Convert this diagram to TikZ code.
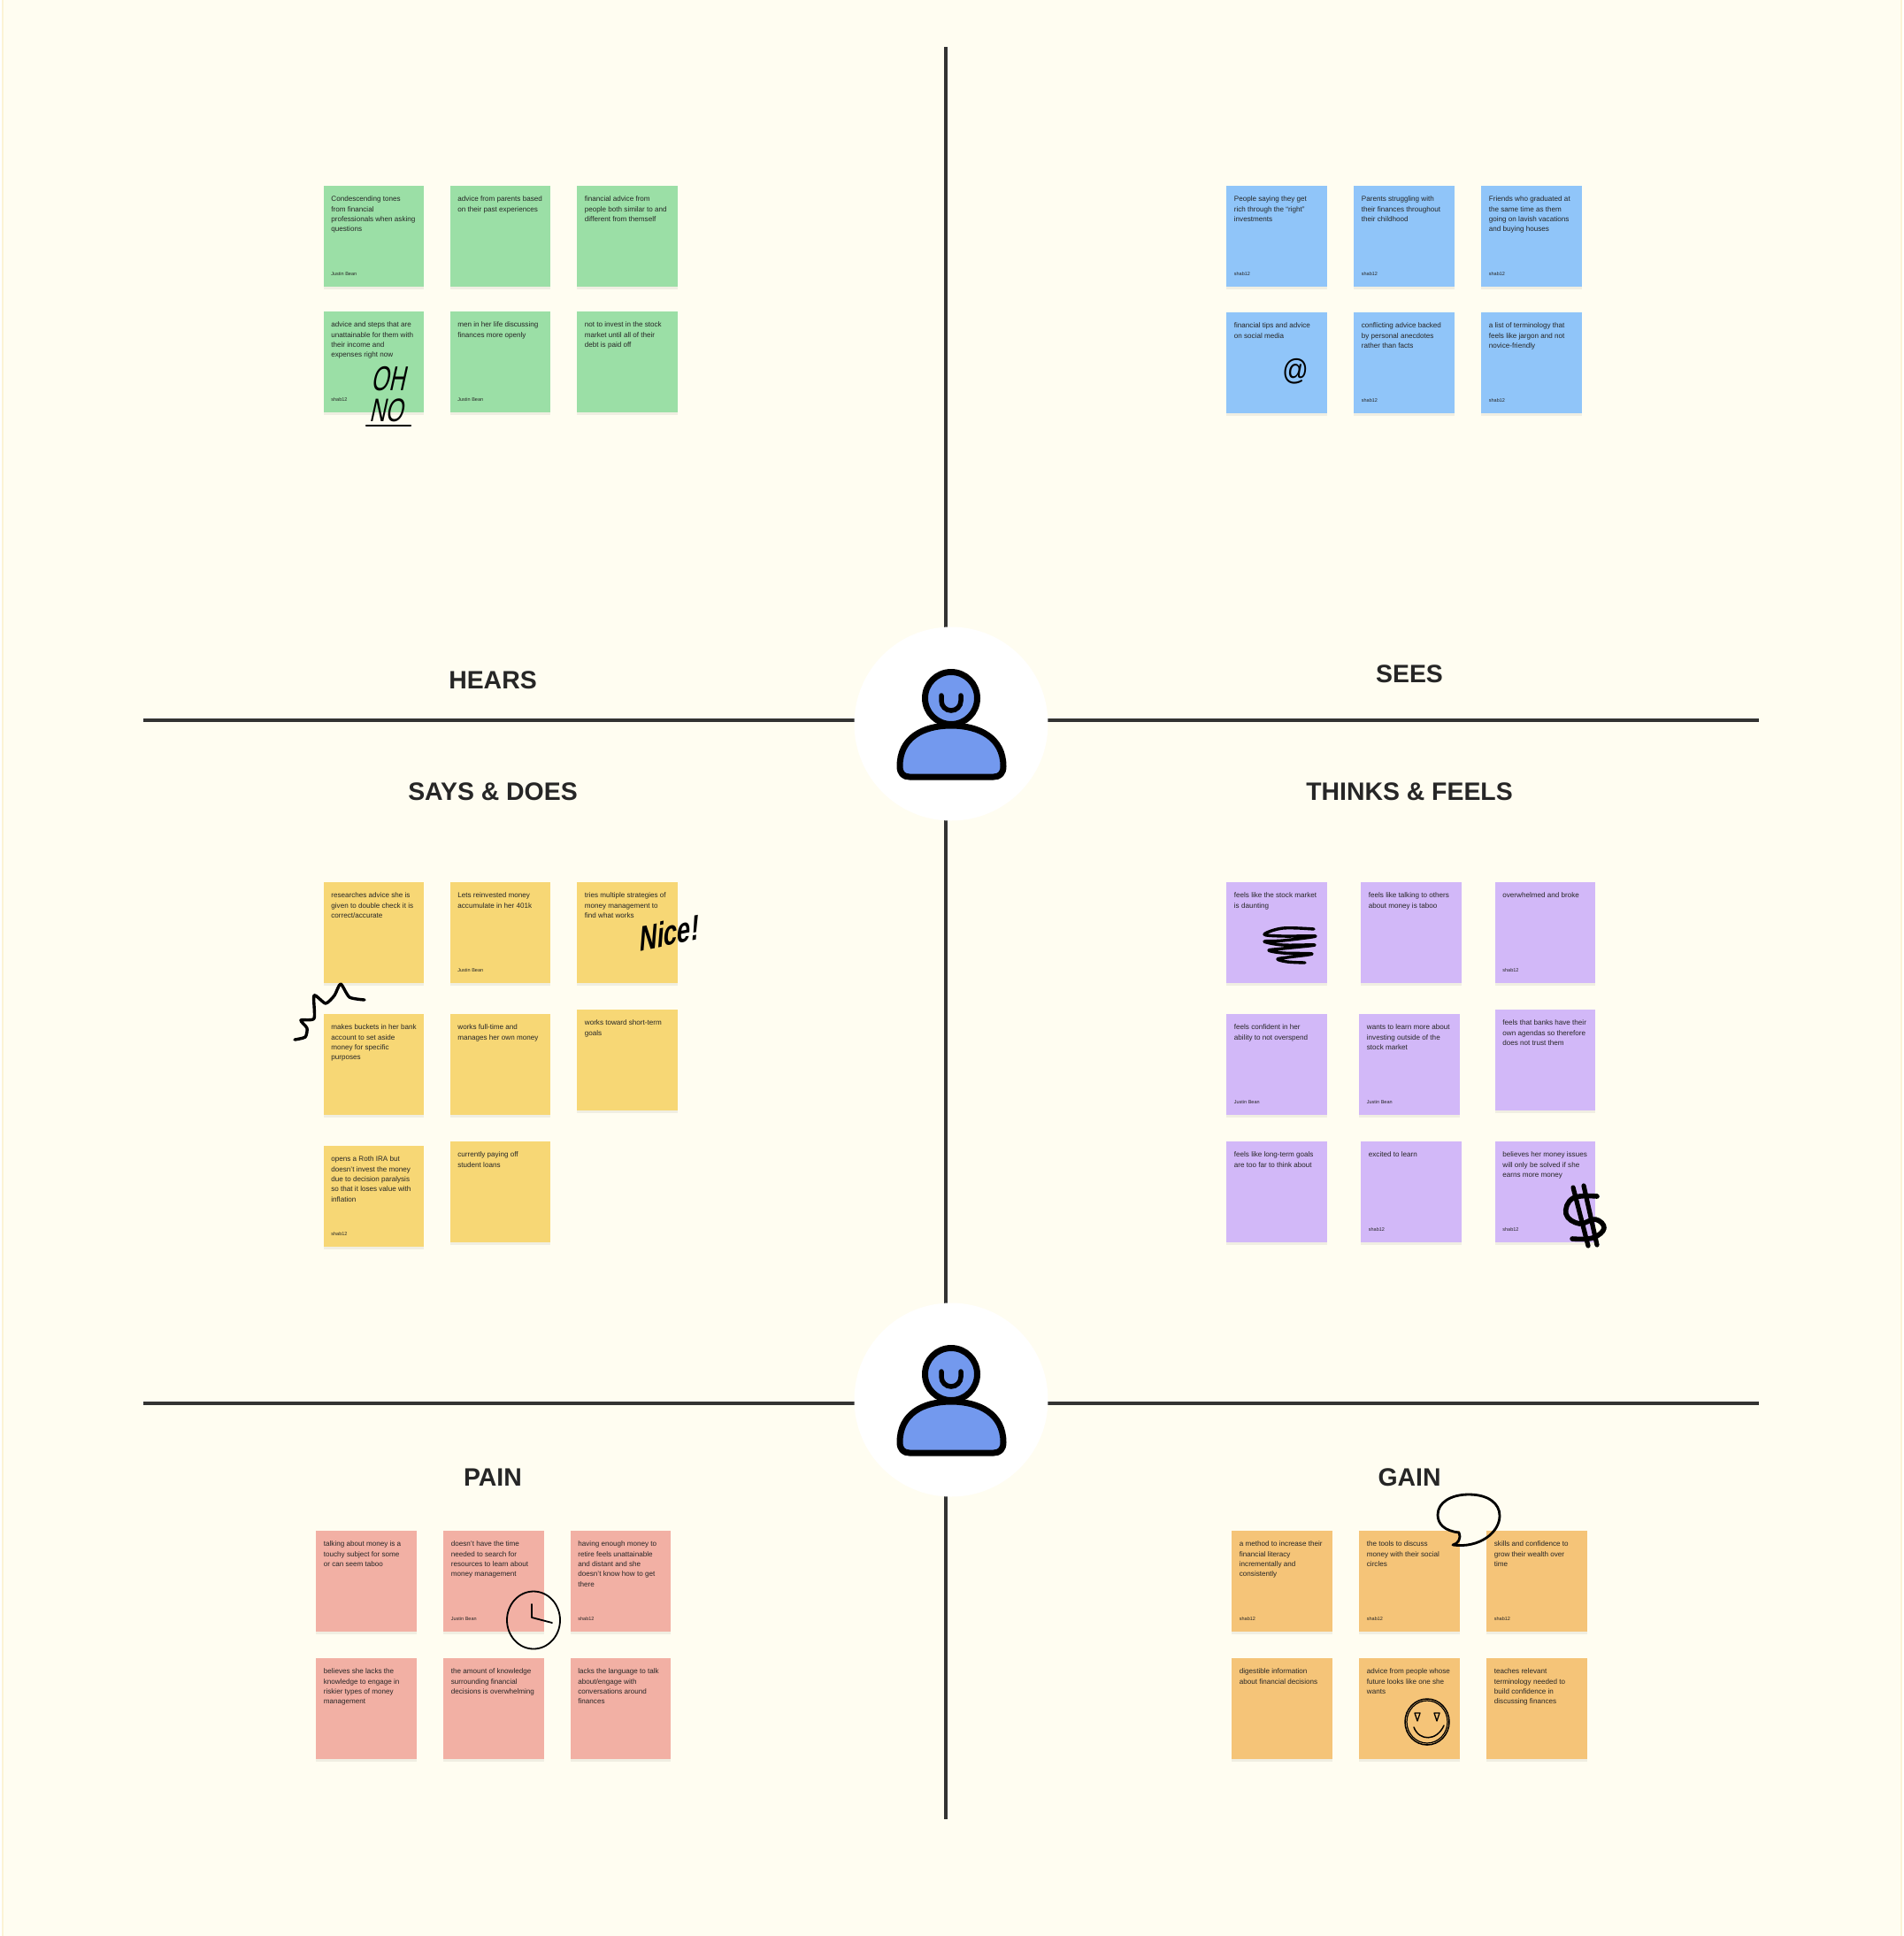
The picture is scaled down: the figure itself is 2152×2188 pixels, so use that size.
\documentclass[tikz,border=0pt]{standalone}
\usepackage{fontspec}
\setmainfont{Liberation Sans}
\definecolor{paper}{HTML}{FFFDF1}
\definecolor{paperedge}{HTML}{FCF3D5}
\definecolor{ink}{HTML}{333333}
\definecolor{notegreen}{HTML}{9BDFA6}
\definecolor{noteblue}{HTML}{90C5F9}
\definecolor{noteyellow}{HTML}{F7D775}
\definecolor{notepurple}{HTML}{D2B8F8}
\definecolor{notepink}{HTML}{F2B0A4}
\definecolor{noteorange}{HTML}{F5C478}
\definecolor{iconblue}{HTML}{7399EE}
\newcommand{\stickytext}[2]{\parbox[c][90pt][t]{113.5pt}{\leftskip=8.7pt \rightskip=0pt plus 1fil \parindent=0pt \fontsize{8.1}{11.3}\selectfont #1\par\vfill\fontsize{5.5}{6}\selectfont #2\par}}
\tikzset{
	note/.style={anchor=north west, minimum width=113.5pt, minimum height=113.5pt, inner xsep=0pt, inner ysep=11.7pt, text=black!85,
		preaction={fill=black, fill opacity=0.06, transform canvas={yshift=-3pt}}},
	greennote/.style={note, fill=notegreen},
	bluenote/.style={note, fill=noteblue},
	yellownote/.style={note, fill=noteyellow},
	purplenote/.style={note, fill=notepurple},
	pinknote/.style={note, fill=notepink},
	orangenote/.style={note, fill=noteorange},
	axis/.style={line width=3.6pt, color=ink},
	hub/.style={circle, fill=white, minimum size=219pt, inner sep=0pt},
	heading/.style={font=\fontsize{28.4}{29}\selectfont\bfseries, text=black!85},
	scrawl/.style={black, line cap=round, line join=round},
	person/.pic={
		\draw[line width=7pt, fill=iconblue] (0,-29) circle (29.5pt);
		\draw[line width=5.5pt, line cap=round] (-11,-32) -- (-11,-26) arc[start angle=180, end angle=360, radius=11pt] -- (11,-32);
		\draw[line width=7pt, fill=iconblue, line join=round] (-47,60) -- (48,60) .. controls (55,60) and (59,56) .. (59,48)
			.. controls (59,16) and (32,2) .. (0,2) .. controls (-32,2) and (-58,16) .. (-58,48) .. controls (-58,56) and (-54,60) .. (-47,60) -- cycle;
	}
}
\begin{document}
\begin{tikzpicture}[x=1pt, y=-1pt]
	\useasboundingbox (0,0) rectangle (2152,2188);
	% Background
	\fill[white] (0,0) rectangle (2152,2188);
	\fill[paperedge] (2,0) rectangle (2150,2188);
	\fill[paper] (4,0) rectangle (2148,2188);
	% Axes
	\coordinate (axistop) at (1069,53);
	\coordinate (axisbottom) at (1069,2056);
	\coordinate (upperleft) at (162,814);
	\coordinate (upperright) at (1988,814);
	\coordinate (lowerleft) at (162,1586);
	\coordinate (lowerright) at (1988,1586);
	\draw[axis] (axistop) -- (axisbottom);
	\draw[axis] (upperleft) -- (upperright);
	\draw[axis] (lowerleft) -- (lowerright);
	% Persons in the centre
	\node[hub] (hubupper) at (1075,818) {};
	\node[hub] (hublower) at (1075,1582) {};
	\pic at (1075,818) {person};
	\pic at (1075,1582) {person};
	% Headings
	\node[heading] (hears) at (557,768.5) {HEARS};
	\node[heading] (sees) at (1593,761.5) {SEES};
	\node[heading] (says) at (557,894.5) {SAYS \& DOES};
	\node[heading] (thinks) at (1593,894.5) {THINKS \& FEELS};
	\node[heading] (pain) at (557,1670) {PAIN};
	\node[heading] (gain) at (1593,1670) {GAIN};
	% Hears
	\node[greennote] (hears1) at (365.5,210) {\stickytext{Condescending tones\\from financial\\professionals when asking\\questions}{Justin Bean}};
	\node[greennote] (hears2) at (508.5,210) {\stickytext{advice from parents based\\on their past experiences}{}};
	\node[greennote] (hears3) at (652,210) {\stickytext{financial advice from\\people both similar to and\\different from themself}{}};
	\node[greennote] (hears4) at (365.5,352) {\stickytext{advice and steps that are\\unattainable for them with\\their income and\\expenses right now}{shab12}};
	\node[greennote] (hears5) at (508.5,352) {\stickytext{men in her life discussing\\finances more openly}{Justin Bean}};
	\node[greennote] (hears6) at (652,352) {\stickytext{not to invest in the stock\\market until all of their\\debt is paid off}{}};
	% Sees
	\node[bluenote] (sees1) at (1386,210) {\stickytext{People saying they get\\rich through the ``right''\\investments}{shab12}};
	\node[bluenote] (sees2) at (1530,210) {\stickytext{Parents struggling with\\their finances throughout\\their childhood}{shab12}};
	\node[bluenote] (sees3) at (1674,210) {\stickytext{Friends who graduated at\\the same time as them\\going on lavish vacations\\and buying houses}{shab12}};
	\node[bluenote] (sees4) at (1386,353) {\stickytext{financial tips and advice\\on social media}{}};
	\node[bluenote] (sees5) at (1530,353) {\stickytext{conflicting advice backed\\by personal anecdotes\\rather than facts}{shab12}};
	\node[bluenote] (sees6) at (1674,353) {\stickytext{a list of terminology that\\feels like jargon and not\\novice-friendly}{shab12}};
	% Says and does
	\node[yellownote] (says1) at (365.5,997) {\stickytext{researches advice she is\\given to double check it is\\correct/accurate}{}};
	\node[yellownote] (says2) at (508.5,997) {\stickytext{Lets reinvested money\\accumulate in her 401k}{Justin Bean}};
	\node[yellownote] (says3) at (652,997) {\stickytext{tries multiple strategies of\\money management to\\find what works}{}};
	\node[yellownote] (says4) at (365.5,1146) {\stickytext{makes buckets in her bank\\account to set aside\\money for specific\\purposes}{}};
	\node[yellownote] (says5) at (508.5,1146) {\stickytext{works full-time and\\manages her own money}{}};
	\node[yellownote] (says6) at (652,1141) {\stickytext{works toward short-term\\goals}{}};
	\node[yellownote] (says7) at (365.5,1295) {\stickytext{opens a Roth IRA but\\doesn't invest the money\\due to decision paralysis\\so that it loses value with\\inflation}{shab12}};
	\node[yellownote] (says8) at (508.5,1290) {\stickytext{currently paying off\\student loans}{}};
	% Thinks and feels
	\node[purplenote] (thinks1) at (1386,997) {\stickytext{feels like the stock market\\is daunting}{}};
	\node[purplenote] (thinks2) at (1538,997) {\stickytext{feels like talking to others\\about money is taboo}{}};
	\node[purplenote] (thinks3) at (1689.5,997) {\stickytext{overwhelmed and broke}{shab12}};
	\node[purplenote] (thinks4) at (1386,1146) {\stickytext{feels confident in her\\ability to not overspend}{Justin Bean}};
	\node[purplenote] (thinks5) at (1536,1146) {\stickytext{wants to learn more about\\investing outside of the\\stock market}{Justin Bean}};
	\node[purplenote] (thinks6) at (1689.5,1141) {\stickytext{feels that banks have their\\own agendas so therefore\\does not trust them}{}};
	\node[purplenote] (thinks7) at (1386,1290) {\stickytext{feels like long-term goals\\are too far to think about}{}};
	\node[purplenote] (thinks8) at (1538,1290) {\stickytext{excited to learn}{shab12}};
	\node[purplenote] (thinks9) at (1689.5,1290) {\stickytext{believes her money issues\\will only be solved if she\\earns more money}{shab12}};
	% Pain
	\node[pinknote] (pain1) at (357,1730) {\stickytext{talking about money is a\\touchy subject for some\\or can seem taboo}{}};
	\node[pinknote] (pain2) at (501,1730) {\stickytext{doesn't have the time\\needed to search for\\resources to learn about\\money management}{Justin Bean}};
	\node[pinknote] (pain3) at (644.5,1730) {\stickytext{having enough money to\\retire feels unattainable\\and distant and she\\doesn't know how to get\\there}{shab12}};
	\node[pinknote] (pain4) at (357,1874) {\stickytext{believes she lacks the\\knowledge to engage in\\riskier types of money\\management}{}};
	\node[pinknote] (pain5) at (501,1874) {\stickytext{the amount of knowledge\\surrounding financial\\decisions is overwhelming}{}};
	\node[pinknote] (pain6) at (644.5,1874) {\stickytext{lacks the language to talk\\about/engage with\\conversations around\\finances}{}};
	% Gain
	\node[orangenote] (gain1) at (1392,1730) {\stickytext{a method to increase their\\financial literacy\\incrementally and\\consistently}{shab12}};
	\node[orangenote] (gain2) at (1536,1730) {\stickytext{the tools to discuss\\money with their social\\circles}{shab12}};
	\node[orangenote] (gain3) at (1680,1730) {\stickytext{skills and confidence to\\grow their wealth over\\time}{shab12}};
	\node[orangenote] (gain4) at (1392,1874) {\stickytext{digestible information\\about financial decisions}{}};
	\node[orangenote] (gain5) at (1536,1874) {\stickytext{advice from people whose\\future looks like one she\\wants}{}};
	\node[orangenote] (gain6) at (1680,1874) {\stickytext{teaches relevant\\terminology needed to\\build confidence in\\discussing finances}{}};
	% Oh no
	\node[xslant=0.22, xscale=0.62, yscale=0.95, transform shape, font=\fontsize{41}{41}\selectfont] (oh) at (442,428) {OH};
	\node[xslant=0.22, xscale=0.62, yscale=0.9, transform shape, font=\fontsize{41}{41}\selectfont] (no) at (439,464) {NO};
	\coordinate (underleft) at (414,481);
	\coordinate (underright) at (464,481);
	\draw[scrawl, line width=2.6pt] (underleft) -- (underright);
	% Nice
	\node[rotate=11, xslant=0.28, xscale=0.8, yscale=1.12, transform shape, font=\fontsize{35}{35}\selectfont\bfseries] (nice) at (757,1054) {Nice!};
	% At sign
	\node[yscale=1.15, transform shape, font=\fontsize{29}{29}\selectfont] (atsign) at (1464,420) {@};
	% Zigzag
	\draw[scrawl, line width=3.4pt] plot[smooth, tension=0.4] coordinates {(333,1175) (345,1172) (347,1162) (340,1153) (355,1151) (355,1125) (368,1134) (378,1125) (385,1112) (395,1127) (412,1130)};
	% Coil
	\draw[scrawl, line width=3.4pt] plot[smooth, tension=0.6] coordinates {(1485,1050) (1450,1049) (1429,1056) (1450,1058) (1487,1058) (1450,1063) (1429,1064) (1450,1068) (1486,1068) (1450,1072) (1434,1074) (1450,1077) (1483,1078) (1455,1082) (1444,1084) (1455,1087) (1475,1088)};
	% Dollar
	\draw[scrawl, line width=5.6pt] plot[smooth, tension=0.7] coordinates {(1805,1352) (1778,1354) (1770,1372) (1785,1383) (1803,1378) (1813,1388) (1800,1399) (1777,1400)};
	\draw[scrawl, line width=5.2pt] (1778,1342) -- (1795,1408);
	\draw[scrawl, line width=5.2pt] (1790,1340) -- (1805,1407);
	% Clock
	\draw[scrawl, line width=1.8pt] (603,1831) ellipse (30pt and 32.5pt);
	\draw[scrawl, line width=1.8pt] (601,1813) -- (601,1828) -- (624,1834);
	% Speech bubble
	\draw[scrawl, line width=2.8pt] (1642,1746) .. controls (1648,1745) and (1652,1738) .. (1649,1732)
		.. controls (1632,1730) and (1625,1722) .. (1625,1712) .. controls (1625,1698) and (1640,1689) .. (1660,1689)
		.. controls (1682,1689) and (1695,1699) .. (1695,1713) .. controls (1695,1732) and (1672,1750) .. (1642,1746);
	% Smiley
	\draw[scrawl, line width=1.5pt] (1613,1946) ellipse (25pt and 26pt);
	\draw[scrawl, line width=1.2pt] (1613,1946) ellipse (23pt and 24pt);
	\draw[scrawl, line width=1.5pt] (1598,1952) .. controls (1604,1968) and (1624,1968) .. (1632,1950);
	\draw[scrawl, line width=1.3pt] (1602,1945) -- (1599,1936) -- (1605,1936) -- cycle;
	\draw[scrawl, line width=1.3pt] (1624,1945) -- (1621,1936) -- (1627,1936) -- cycle;
\end{tikzpicture}
\end{document}
